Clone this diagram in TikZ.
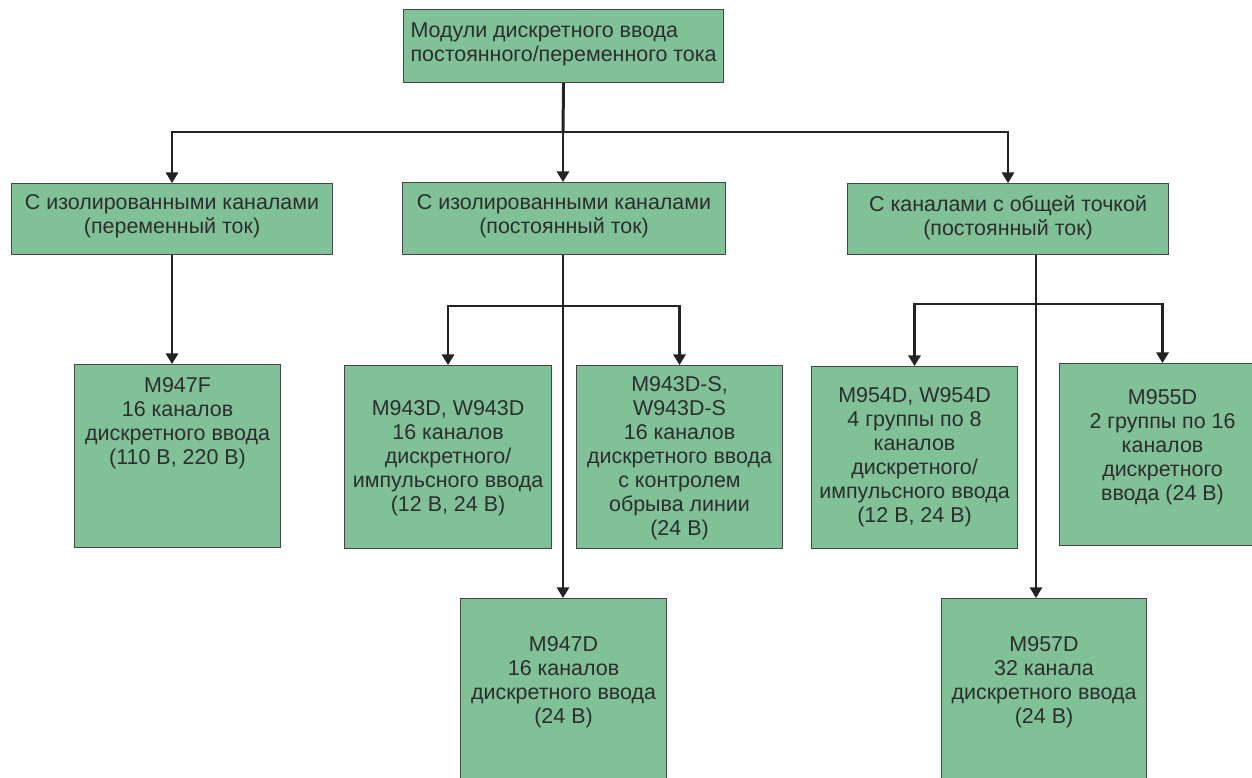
\documentclass[tikz,border=0pt]{standalone}
\usepackage{fontspec}
\setmainfont{Liberation Sans}
\usetikzlibrary{arrows.meta}

\definecolor{boxfill}{RGB}{128,193,151}
\definecolor{boxline}{RGB}{70,70,70}
\definecolor{textgray}{RGB}{45,45,45}
\definecolor{linegray}{RGB}{35,35,35}

\newlength{\pix}\setlength{\pix}{0.02cm}
\newcommand{\boxtext}[4]{\parbox[t][#2\pix][t]{#1\pix}{\centering\vspace*{#3\pix}#4}}

\tikzset{
  box/.style={draw=boxline, fill=boxfill, line width=0.6pt, inner sep=0pt, anchor=north west,
    text=textgray, font={\fontsize{12.2pt}{13.66pt}\selectfont}},
  arr/.style={draw=linegray, line width=1.2pt, -{Triangle[length=6pt,width=7pt]}},
  link/.style={draw=linegray, line width=1.7pt}
}

\begin{document}
\begin{tikzpicture}[x=0.02cm, y=-0.02cm]

\useasboundingbox (0,0) rectangle (1252,778);
\clip (0,0) rectangle (1252,778);

\node[box, inner xsep=7\pix] (top) at (403,9) {\parbox[t][73\pix][t]{306\pix}{\vspace*{13\pix}Модули дискретного ввода\\постоянного/переменного тока}};

\node[box] (isoac)  at (11,183)  {\boxtext{321}{71}{11}{С изолированными каналами\\(переменный ток)}};
\node[box] (isodc)  at (402,182) {\boxtext{323}{72}{12}{С изолированными каналами\\(постоянный ток)}};
\node[box] (isocom) at (847,183) {\boxtext{321}{71}{12}{С каналами с общей точкой\\(постоянный ток)}};

\node[box] (m947f)  at (74,364)  {\boxtext{206}{183}{13}{M947F\\16 каналов\\дискретного ввода\\(110 В, 220 В)}};
\node[box] (m943d)  at (344,365) {\boxtext{207}{183}{35}{M943D, W943D\\16 каналов\\дискретного/\\импульсного ввода\\(12 В, 24 В)}};
\node[box] (m943ds) at (576,365) {\boxtext{206}{183}{11}{M943D-S,\\W943D-S\\16 каналов\\дискретного ввода\\с контролем\\обрыва линии\\(24 В)}};
\node[box] (m947d)  at (460,598) {\boxtext{206}{200}{38}{M947D\\16 каналов\\дискретного ввода\\(24 В)}};
\node[box] (m954d)  at (811,366) {\boxtext{206}{182}{21}{M954D, W954D\\4 группы по 8\\каналов\\дискретного/\\импульсного ввода\\(12 В, 24 В)}};
\node[box] (m955d)  at (1059,363) {\boxtext{206}{182}{26}{M955D\\2 группы по 16\\каналов\\дискретного\\ввода (24 В)}};
\node[box] (m957d)  at (941,598) {\boxtext{205}{200}{38}{M957D\\32 канала\\дискретного ввода\\(24 В)}};

\coordinate (bus1) at (563,132);
\coordinate (bus2) at (563,306);
\coordinate (bus3) at (1036,304);

\draw[link] (top.south) -- (bus1);
\draw[arr] (bus1) -| (isoac);
\draw[arr] (bus1) -| (isocom);
\draw[arr] (bus1) -- (bus1 |- isodc.north);

\draw[arr] (isoac.south) -- (isoac.south |- m947f.north);

\draw[arr, line width=0.9pt] (bus2 |- isodc.south) -- (bus2 |- m947d.north);
\draw[arr] (bus2) -| (m943d);
\draw[arr] (bus2) -| (m943ds);

\draw[arr, line width=0.9pt] (bus3 |- isocom.south) -- (bus3 |- m957d.north);
\draw[arr] (bus3) -| (m954d);
\draw[arr] (bus3) -| (m955d);

\end{tikzpicture}
\end{document}
